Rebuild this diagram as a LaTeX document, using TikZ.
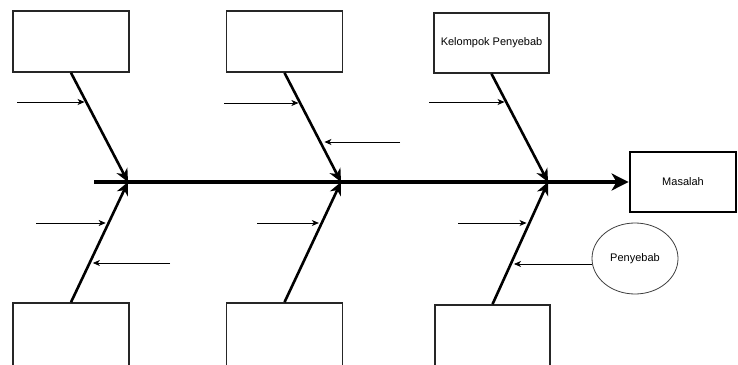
\documentclass[tikz,border=0pt]{standalone}
\usepackage{fontspec}
\setmainfont{Liberation Sans}
\usetikzlibrary{arrows.meta,calc,shapes.geometric}

\tikzset{
  catbox/.style={draw=black!85, line width=1.6pt, fill=white, minimum width=116pt, minimum height=61pt, inner sep=0pt, font=\fontsize{11}{13}\selectfont},
  probbox/.style={draw=black, line width=2.8pt, fill=white, minimum width=106pt, minimum height=60pt, inner sep=0pt, font=\fontsize{11}{13}\selectfont},
  causeell/.style={ellipse, draw=black!75, line width=0.8pt, minimum width=86pt, minimum height=71pt, inner sep=0pt, font=\fontsize{11}{13}\selectfont},
  bone/.style={line width=2.6pt, -{Stealth[length=13pt,width=12pt,inset=4pt]}},
  spine/.style={line width=3.6pt, -{Stealth[length=17pt,width=17pt,inset=5pt]}},
  subcause/.style={line width=0.8pt, -{Stealth[length=7pt,width=6pt,inset=2pt]}}
}

\begin{document}
\begin{tikzpicture}[x=1pt,y=-1pt]
  \useasboundingbox (0,0) rectangle (738,364);
  \clip (0,0) rectangle (738,364);
  \fill[white] (0,0) rectangle (738,364);

  % category boxes above the spine
  \node[catbox] (t1) at (71,41.5) {};
  \node[catbox] (t2) at (284.5,41.5) {};
  \node[catbox, minimum width=115pt, minimum height=60pt] (t3) at (491.5,43) {Kelompok Penyebab};

  % category boxes below the spine (running past the lower edge)
  \node[catbox, minimum height=72pt] (u1) at (71,339) {};
  \node[catbox, minimum height=72pt] (u2) at (284.5,339) {};
  \node[catbox, minimum width=115pt, minimum height=72pt] (u3) at (492.5,341) {};

  % problem box and a cause
  \node[probbox] (m) at (683,182) {Masalah};
  \node[causeell] (pe) at (635,258.5) {Penyebab};

  % spine and its junctions
  \coordinate (s) at (94,182);
  \coordinate (j1) at (128,182);
  \coordinate (j2) at (341,182);
  \coordinate (j3) at (548,182);
  \draw[spine] (s) -- (m.west);

  % bones
  \draw[bone] (t1.south) -- (j1);
  \draw[bone] (u1.north) -- (j1);
  \draw[bone] (t2.south) -- (j2);
  \draw[bone] (u2.north) -- (j2);
  \draw[bone] (t3.south) -- (j3);
  \draw[bone] (u3.north) -- (j3);

  % sub-cause tips on the bones
  \coordinate (a1) at ($($(t1.south)!0.273!(j1)$)+(-2,0)$);
  \coordinate (a2) at ($($(u1.north)!0.661!(j1)$)+(-3,0)$);
  \coordinate (a3) at ($($(u1.north)!0.331!(j1)$)+(3,0)$);
  \coordinate (a4) at ($($(t2.south)!0.282!(j2)$)+(-2,0)$);
  \coordinate (a5) at ($($(t2.south)!0.636!(j2)$)+(4,0)$);
  \coordinate (a6) at ($($(u2.north)!0.661!(j2)$)+(-3,0)$);
  \coordinate (a7) at ($($(t3.south)!0.266!(j3)$)+(-2,0)$);
  \coordinate (a8) at ($($(u3.north)!0.667!(j3)$)+(-3,0)$);
  \coordinate (a9) at ($($(u3.north)!0.333!(j3)$)+(3,0)$);

  % free ends of the sub-cause arrows
  \coordinate (f1) at (17,102);
  \coordinate (f2) at (36,223);
  \coordinate (f3) at (170,263);
  \coordinate (f4) at (224,103);
  \coordinate (f5) at (400,142);
  \coordinate (f6) at (257,223);
  \coordinate (f7) at (429,102);
  \coordinate (f8) at (458,223);
  \coordinate (f9) at ($(pe.west)+(0.6,5.5)$);

  \draw[subcause] (f1) -- (f1 -| a1);
  \draw[subcause] (f2) -- (f2 -| a2);
  \draw[subcause] (f3) -- (f3 -| a3);
  \draw[subcause] (f4) -- (f4 -| a4);
  \draw[subcause] (f5) -- (f5 -| a5);
  \draw[subcause] (f6) -- (f6 -| a6);
  \draw[subcause] (f7) -- (f7 -| a7);
  \draw[subcause] (f8) -- (f8 -| a8);
  \draw[subcause] (f9) -- (f9 -| a9);
\end{tikzpicture}
\end{document}
